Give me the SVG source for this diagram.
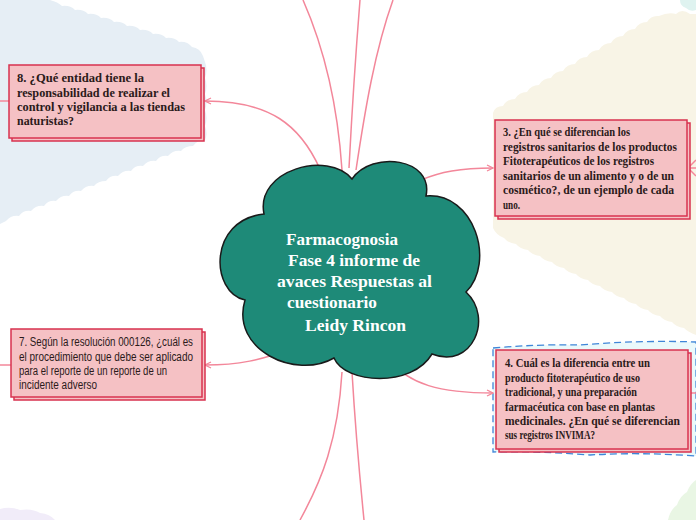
<svg xmlns="http://www.w3.org/2000/svg" width="696" height="520" viewBox="0 0 696 520">
<style>
.bg{stroke:none}
.box{fill:#f5c1c4;stroke:#d8324f;stroke-width:1.5}
.t{font-family:"Liberation Serif","DejaVu Serif",serif;font-weight:bold;font-size:12.5px;fill:#2b1a1a}
.ts{font-family:"Liberation Sans","DejaVu Sans",sans-serif;font-size:12.5px;fill:#2b1a1a}
.ct{font-family:"Liberation Serif","DejaVu Serif",serif;font-weight:bold;font-size:17.5px;fill:#ffffff}
.c{fill:none;stroke:#f3879a;stroke-width:1.5}
</style>
<defs>
<marker id="ah" viewBox="0 0 8 8" refX="7" refY="4" markerWidth="8" markerHeight="8" orient="auto" markerUnits="userSpaceOnUse">
<path d="M1,1 L7,4 L1,7" fill="none" stroke="#f3879a" stroke-width="1.3"/>
</marker>
</defs>
<rect width="696" height="520" fill="#ffffff"/>
<g id="backgrounds">
<path class="bg" fill="#e6eef5" d="M0,0 L50,0 Q58,2 62,6 Q70,5 75,10 Q83,9 88,14 Q96,13 101,18 Q109,17 114,22 Q122,21 127,26 Q135,25 140,30 Q148,29 153,34 Q161,33 166,38 Q174,37 179,42 Q187,41 192,47 Q200,48 203,56 L205,62 Q208,70 205,78 Q208,86 205,94 Q208,102 205,110 Q208,118 205,126 Q208,134 205,140 Q197,140 193,146 Q185,146 181,151 Q173,150 168,156 Q160,155 156,161 Q148,160 143,166 Q135,165 131,171 Q123,170 118,176 Q110,175 106,181 Q98,181 94,186 Q86,185 81,191 Q73,190 69,196 Q61,195 56,201 Q48,200 44,206 Q36,205 31,211 Q23,210 19,216 Q11,215 6,221 L0,224 Z"/>
<path class="bg" fill="#f8f4e6" d="M493,113 Q495,106 503,106 Q507,99 515,99 Q519,92 527,92 Q531,85 539,85 Q543,78 551,78 Q555,71 563,71 Q567,64 575,64 Q579,57 587,57 Q591,50 599,50 Q603,43 611,43 Q615,36 623,36 Q627,29 635,29 Q639,22 647,22 Q651,15 659,16 Q668,12 676,14 Q682,8 690,14 L696,14 L696,335 Q688,332 684,328 Q676,327 672,322 Q664,321 660,316 Q652,315 648,310 Q640,309 636,304 Q628,303 624,298 Q616,297 612,292 Q604,291 600,286 Q592,285 588,280 Q580,279 576,274 Q568,273 564,268 Q556,267 552,262 Q544,261 540,256 Q532,255 528,250 Q520,249 516,244 Q508,243 504,238 Q496,235 493,228 Z"/>
<path class="bg" fill="#dff3f0" d="M680,0 L696,0 L696,10 Q690,12 686,8 Q680,6 680,0 Z"/>
<path class="bg" fill="#e9f6e4" d="M668,520 Q670,510 677,505 Q680,496 687,492 Q690,484 696,480 L696,520 Z"/>
<path class="bg" fill="#f1ecf9" d="M0,509 Q10,506 20,510 Q32,508 40,513 Q50,514 55,520 L0,520 Z"/>
<path fill="#eaf9fb" stroke="#3f86d8" stroke-width="1.3" stroke-dasharray="7,4" d="M493,348 Q540,344 580,345 Q640,340 696,342 L696,456 Q640,452 590,455 Q540,451 493,452 Z"/>
</g>
<g id="connectors">
<path class="c" d="M320,169 C300,125 270,101 205,101" marker-end="url(#ah)"/>
<path class="c" d="M421,180 C440,172 460,168 493,168" marker-end="url(#ah)"/>
<path class="c" d="M386,358 C410,385 440,393 493,393" marker-end="url(#ah)"/>
<path class="c" d="M292,349 C260,360 240,365 205,365" marker-end="url(#ah)"/>
<path class="c" d="M342,170 C338,110 325,50 303,0"/>
<path class="c" d="M349,168 C352,110 356,50 360,0"/>
<path class="c" d="M356,170 C365,110 375,50 393,0"/>
<path class="c" d="M342,372 C338,440 322,480 300,520"/>
<path class="c" d="M352,372 C356,440 360,480 364,520"/>
<path class="c" d="M0,101 L9,101"/>
<path class="c" d="M0,365 L11,365"/>
<path class="c" d="M688,168 L696,160 M688,168 L696,168 M688,168 L696,176"/>
<path class="c" d="M688,393 L696,393"/>
</g>
<g id="center">
<path fill="#1e8a78" stroke="#1a1a1a" stroke-width="1.5" d="M245,300 C210,292 208,220 264,214 C255,170 328,150 352,179 C372,150 434,158 426,196 C474,192 496,262 466,292 C494,318 472,370 432,354 C412,388 345,384 334,358 C296,380 230,350 245,300 Z"/>
<text class="ct" x="286" y="245" textLength="112" lengthAdjust="spacingAndGlyphs">Farmacognosia</text>
<text class="ct" x="288" y="266" textLength="132" lengthAdjust="spacingAndGlyphs">Fase 4 informe de</text>
<text class="ct" x="277" y="287" textLength="155" lengthAdjust="spacingAndGlyphs">avaces  Respuestas al</text>
<text class="ct" x="287" y="308" textLength="90" lengthAdjust="spacingAndGlyphs">cuestionario</text>
<text class="ct" x="305" y="331" textLength="101" lengthAdjust="spacingAndGlyphs">Leidy Rincon</text>
</g>
<g id="node8">
<rect class="box" x="12" y="68" width="192" height="73"/>
<rect class="box" x="9" y="65" width="192" height="73"/>
<text class="t" x="17" y="82" textLength="127" lengthAdjust="spacingAndGlyphs">8. ¿Qué entidad tiene la</text>
<text class="t" x="17" y="96.5" textLength="153" lengthAdjust="spacingAndGlyphs">responsabilidad de realizar el</text>
<text class="t" x="17" y="111" textLength="168" lengthAdjust="spacingAndGlyphs">control y vigilancia a las tiendas</text>
<text class="t" x="17" y="125" textLength="57" lengthAdjust="spacingAndGlyphs">naturistas?</text>
</g>
<g id="node3">
<rect class="box" x="498" y="123" width="192" height="96"/>
<rect class="box" x="495" y="120" width="192" height="96"/>
<text class="t" x="503" y="136" textLength="127" lengthAdjust="spacingAndGlyphs">3. ¿En qué se diferencian los</text>
<text class="t" x="503" y="150.5" textLength="174" lengthAdjust="spacingAndGlyphs">registros sanitarios de los productos</text>
<text class="t" x="503" y="165" textLength="151" lengthAdjust="spacingAndGlyphs">Fitoterapéuticos de los registros</text>
<text class="t" x="503" y="179.5" textLength="171" lengthAdjust="spacingAndGlyphs">sanitarios de un alimento y o de un</text>
<text class="t" x="503" y="194" textLength="171" lengthAdjust="spacingAndGlyphs">cosmético?, de un ejemplo de cada</text>
<text class="t" x="503" y="208.5" textLength="17" lengthAdjust="spacingAndGlyphs">uno.</text>
</g>
<g id="node4">
<rect class="box" x="499" y="353" width="192" height="99"/>
<rect class="box" x="496" y="350" width="192" height="99"/>
<text class="t" x="505" y="367" textLength="145" lengthAdjust="spacingAndGlyphs">4. Cuál es la diferencia entre un</text>
<text class="t" x="505" y="381.5" textLength="135" lengthAdjust="spacingAndGlyphs">producto fitoterapéutico de uso</text>
<text class="t" x="505" y="396" textLength="132" lengthAdjust="spacingAndGlyphs">tradicional, y una preparación</text>
<text class="t" x="505" y="410.5" textLength="150" lengthAdjust="spacingAndGlyphs">farmacéutica con base en plantas</text>
<text class="t" x="505" y="425" textLength="175" lengthAdjust="spacingAndGlyphs">medicinales. ¿En qué se diferencian</text>
<text class="t" x="505" y="439" textLength="90" lengthAdjust="spacingAndGlyphs">sus registros INVIMA?</text>
</g>
<g id="node7">
<rect class="box" x="14" y="332" width="191" height="68"/>
<rect class="box" x="11" y="329" width="191" height="68"/>
<text class="ts" x="19" y="346" textLength="174" lengthAdjust="spacingAndGlyphs">7. Según la resolución 000126, ¿cuál es</text>
<text class="ts" x="19" y="360.5" textLength="174" lengthAdjust="spacingAndGlyphs">el procedimiento que debe ser aplicado</text>
<text class="ts" x="19" y="375" textLength="148" lengthAdjust="spacingAndGlyphs">para el reporte de un reporte de un</text>
<text class="ts" x="19" y="389" textLength="78" lengthAdjust="spacingAndGlyphs">incidente adverso</text>
</g>
</svg>
